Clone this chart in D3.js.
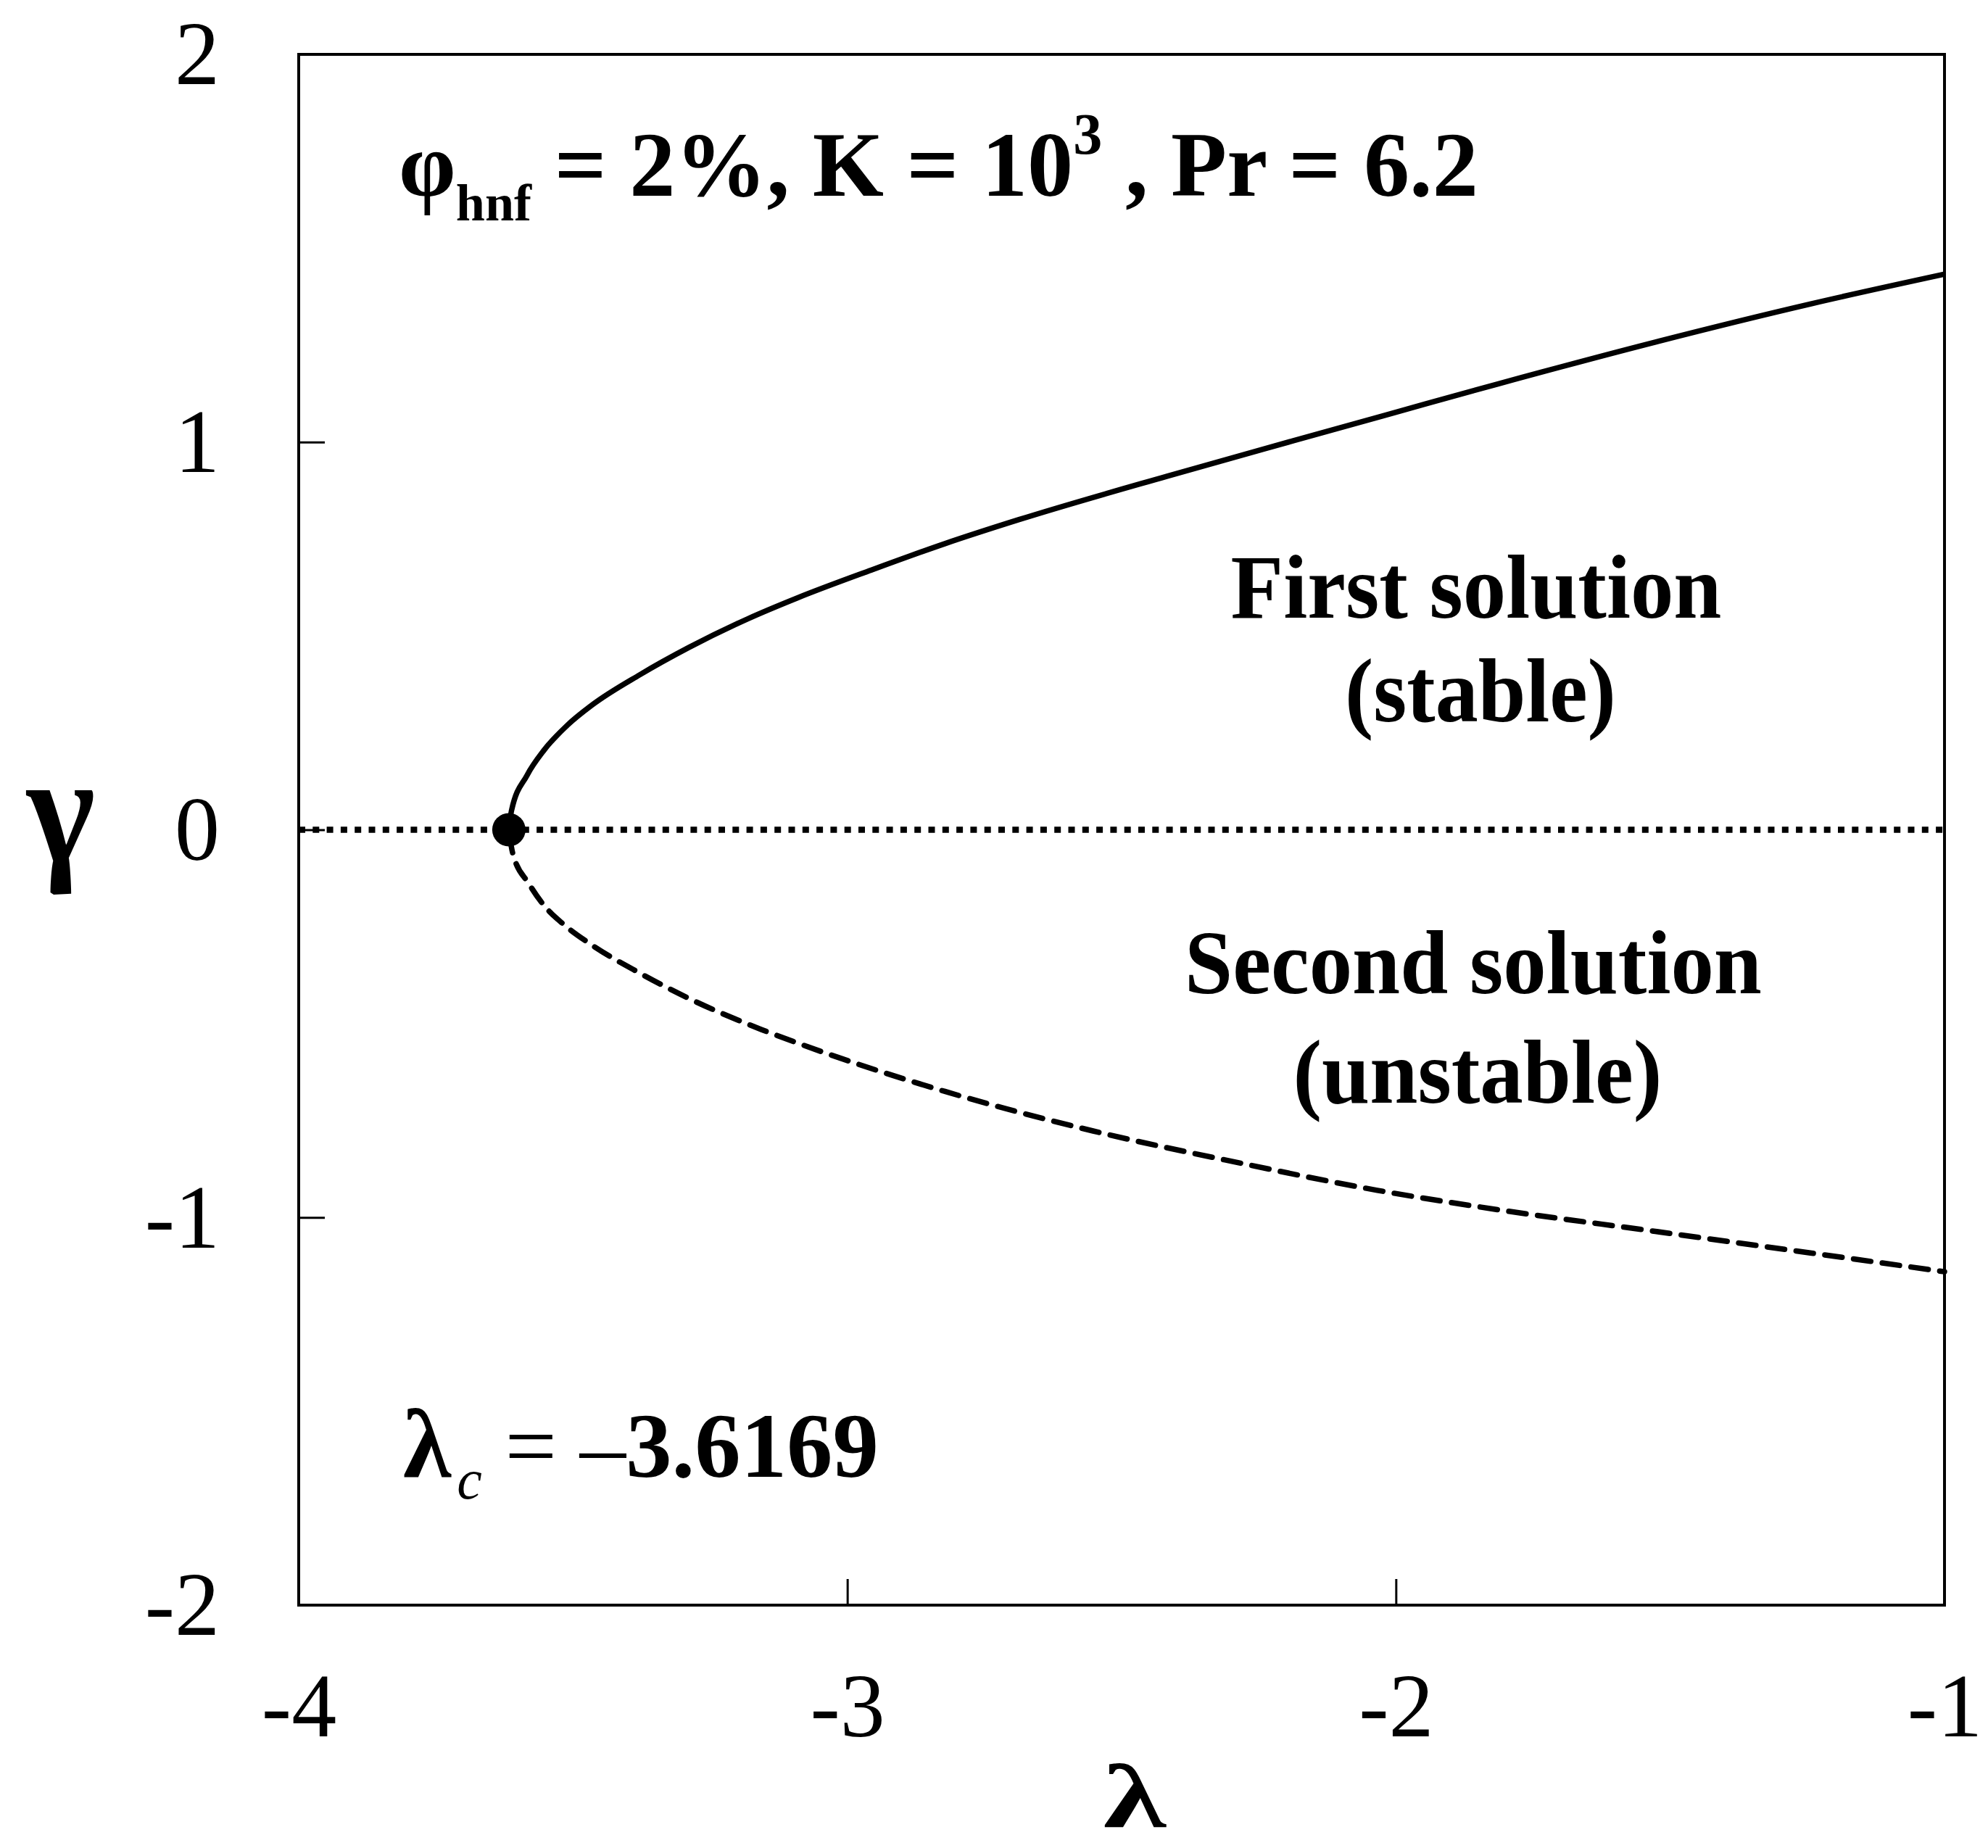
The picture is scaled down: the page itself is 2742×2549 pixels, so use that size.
<!DOCTYPE html>
<html>
<head>
<meta charset="utf-8">
<script src="https://cdn.jsdelivr.net/npm/d3@7"></script>
<style>
  html, body { margin: 0; padding: 0; background: #fff; }
  svg { display: block; }
  text { font-family: "Liberation Serif", "Times New Roman", serif; fill: #000; }
</style>
</head>
<body>
<svg id="chart" width="2742" height="2549"></svg>
<script>
// ---- data ----
const xTicks = [-4, -3, -2, -1];
const yTicks = [-2, -1, 0, 1, 2];
const lambdaCritical = -3.6169;

const firstLambda = [-3.6169, -3.612, -3.584, -3.553, -3.510, -3.465, -3.378, -3.289, -3.180, -3.091, -2.956, -2.822, -2.687, -2.417, -2.188, -2.000, -1.814, -1.527, -1.242, -1.0];
const firstGamma  = [0.000, 0.050, 0.140, 0.205, 0.270, 0.322, 0.400, 0.470, 0.545, 0.598, 0.670, 0.738, 0.800, 0.912, 1.003, 1.077, 1.150, 1.258, 1.357, 1.433];

const secondLambda = [-3.6169, -3.610, -3.580, -3.553, -3.518, -3.465, -3.378, -3.289, -3.157, -3.091, -2.822, -2.552, -2.283, -2.034, -1.814, -1.527, -1.242, -1.0];
const secondGamma  = [0.000, -0.060, -0.140, -0.195, -0.243, -0.298, -0.370, -0.435, -0.515, -0.550, -0.675, -0.777, -0.860, -0.930, -0.980, -1.036, -1.092, -1.140];

// ---- layout ----
const svg = d3.select("#chart");
const L = 412, R = 2682, T = 75, B = 2214;
const x = d3.scaleLinear().domain([-4, -1]).range([L, R]);
const y = d3.scaleLinear().domain([-2, 2]).range([B, T]);

// frame
svg.append("rect").attr("x", L).attr("y", T).attr("width", R - L).attr("height", B - T)
  .attr("fill", "none").attr("stroke", "#000").attr("stroke-width", 4);

// x axis (ticks inward)
const gx = svg.append("g").attr("transform", `translate(0,${B})`)
  .call(d3.axisBottom(x).tickValues(xTicks).tickSize(-36).tickFormat(d => String(d)));
gx.select(".domain").remove();
gx.selectAll(".tick line").attr("stroke", "#000").attr("stroke-width", 3);
gx.selectAll(".tick text").attr("y", 181).attr("dy", 0)
  .attr("font-size", 124).attr("font-family", "Liberation Serif").attr("fill", "#000");

// y axis (ticks inward)
const gy = svg.append("g").attr("transform", `translate(${L},0)`)
  .call(d3.axisLeft(y).tickValues(yTicks).tickSize(-36).tickFormat(d => String(d)));
gy.select(".domain").remove();
gy.selectAll(".tick line").attr("stroke", "#000").attr("stroke-width", 3);
gy.selectAll(".tick text").attr("x", -109).attr("dy", "0.33em")
  .attr("font-size", 124).attr("font-family", "Liberation Serif").attr("fill", "#000");

// helper: horizontally fit a text to a target width
function fit(t, width, anchorX) {
  const w = t.node().getBBox().width;
  const s = width / w;
  t.attr("transform", `translate(${anchorX},0) scale(${s},1) translate(${-anchorX},0)`);
}

// axis titles
const gTitle = svg.append("text").attr("x", 84).attr("y", 1188).attr("text-anchor", "middle")
  .attr("font-size", 215).attr("font-weight", "bold").text("γ");
fit(gTitle, 96, 84);
const lTitle = svg.append("text").attr("x", 1565).attr("y", 2520).attr("text-anchor", "middle")
  .attr("font-size", 124).attr("font-weight", "bold").text("λ");
fit(lTitle, 88, 1565);

// dotted zero line
svg.append("line").attr("x1", x(-4)).attr("x2", x(-1)).attr("y1", y(0)).attr("y2", y(0))
  .attr("stroke", "#000").attr("stroke-width", 8.5).attr("stroke-dasharray", "9,10.3");

// curves
const line = d3.line().x(d => x(d[0])).y(d => y(d[1])).curve(d3.curveMonotoneX);
const first = firstLambda.map((l, i) => [l, firstGamma[i]]);
const second = secondLambda.map((l, i) => [l, secondGamma[i]]);

svg.append("path").attr("d", line(first)).attr("fill", "none")
  .attr("stroke", "#000").attr("stroke-width", 7.5);
svg.append("path").attr("d", line(second)).attr("fill", "none")
  .attr("stroke", "#000").attr("stroke-width", 7.5)
  .attr("stroke-dasharray", "24,16").attr("stroke-linecap", "round")
  .attr("stroke-dashoffset", -8);

// critical point
svg.append("circle").attr("cx", x(lambdaCritical)).attr("cy", y(0)).attr("r", 23).attr("fill", "#000");

// parameter title
const title = svg.append("text").attr("x", 550).attr("y", 270)
  .attr("font-size", 126).attr("font-weight", "bold");
title.append("tspan").text("φ");
title.append("tspan").attr("font-size", 72).attr("dy", 34).text("hnf");
title.append("tspan").attr("dy", -34).text(" = 2%, K = 10");
title.append("tspan").attr("font-size", 80).attr("dy", -58).text("3");
title.append("tspan").attr("dy", 58).text(" , Pr = 6.2");
fit(title, 1489, 550);

// lambda critical
const lc = svg.append("text").attr("x", 556).attr("y", 2037).attr("font-size", 127);
lc.append("tspan").attr("font-weight", "bold").attr("font-size", 135).text("λ");
lc.append("tspan").attr("font-style", "italic").attr("font-size", 78).attr("dy", 30).attr("dx", 8).text("c");
lc.append("tspan").attr("dy", -30).text(" = –");
lc.append("tspan").attr("font-weight", "bold").text("3.6169");
fit(lc, 656, 556);

// solution labels
function label(txt, cx, by, w) {
  const t = svg.append("text").attr("x", cx).attr("y", by).attr("text-anchor", "middle")
    .attr("font-size", 124).attr("font-weight", "bold").text(txt);
  fit(t, w, cx);
}
label("First solution", 2036, 852, 677);
label("(stable)", 2042, 995, 374);
label("Second solution", 2032, 1370, 796);
label("(unstable)", 2038, 1521, 509);
</script>
</body>
</html>
